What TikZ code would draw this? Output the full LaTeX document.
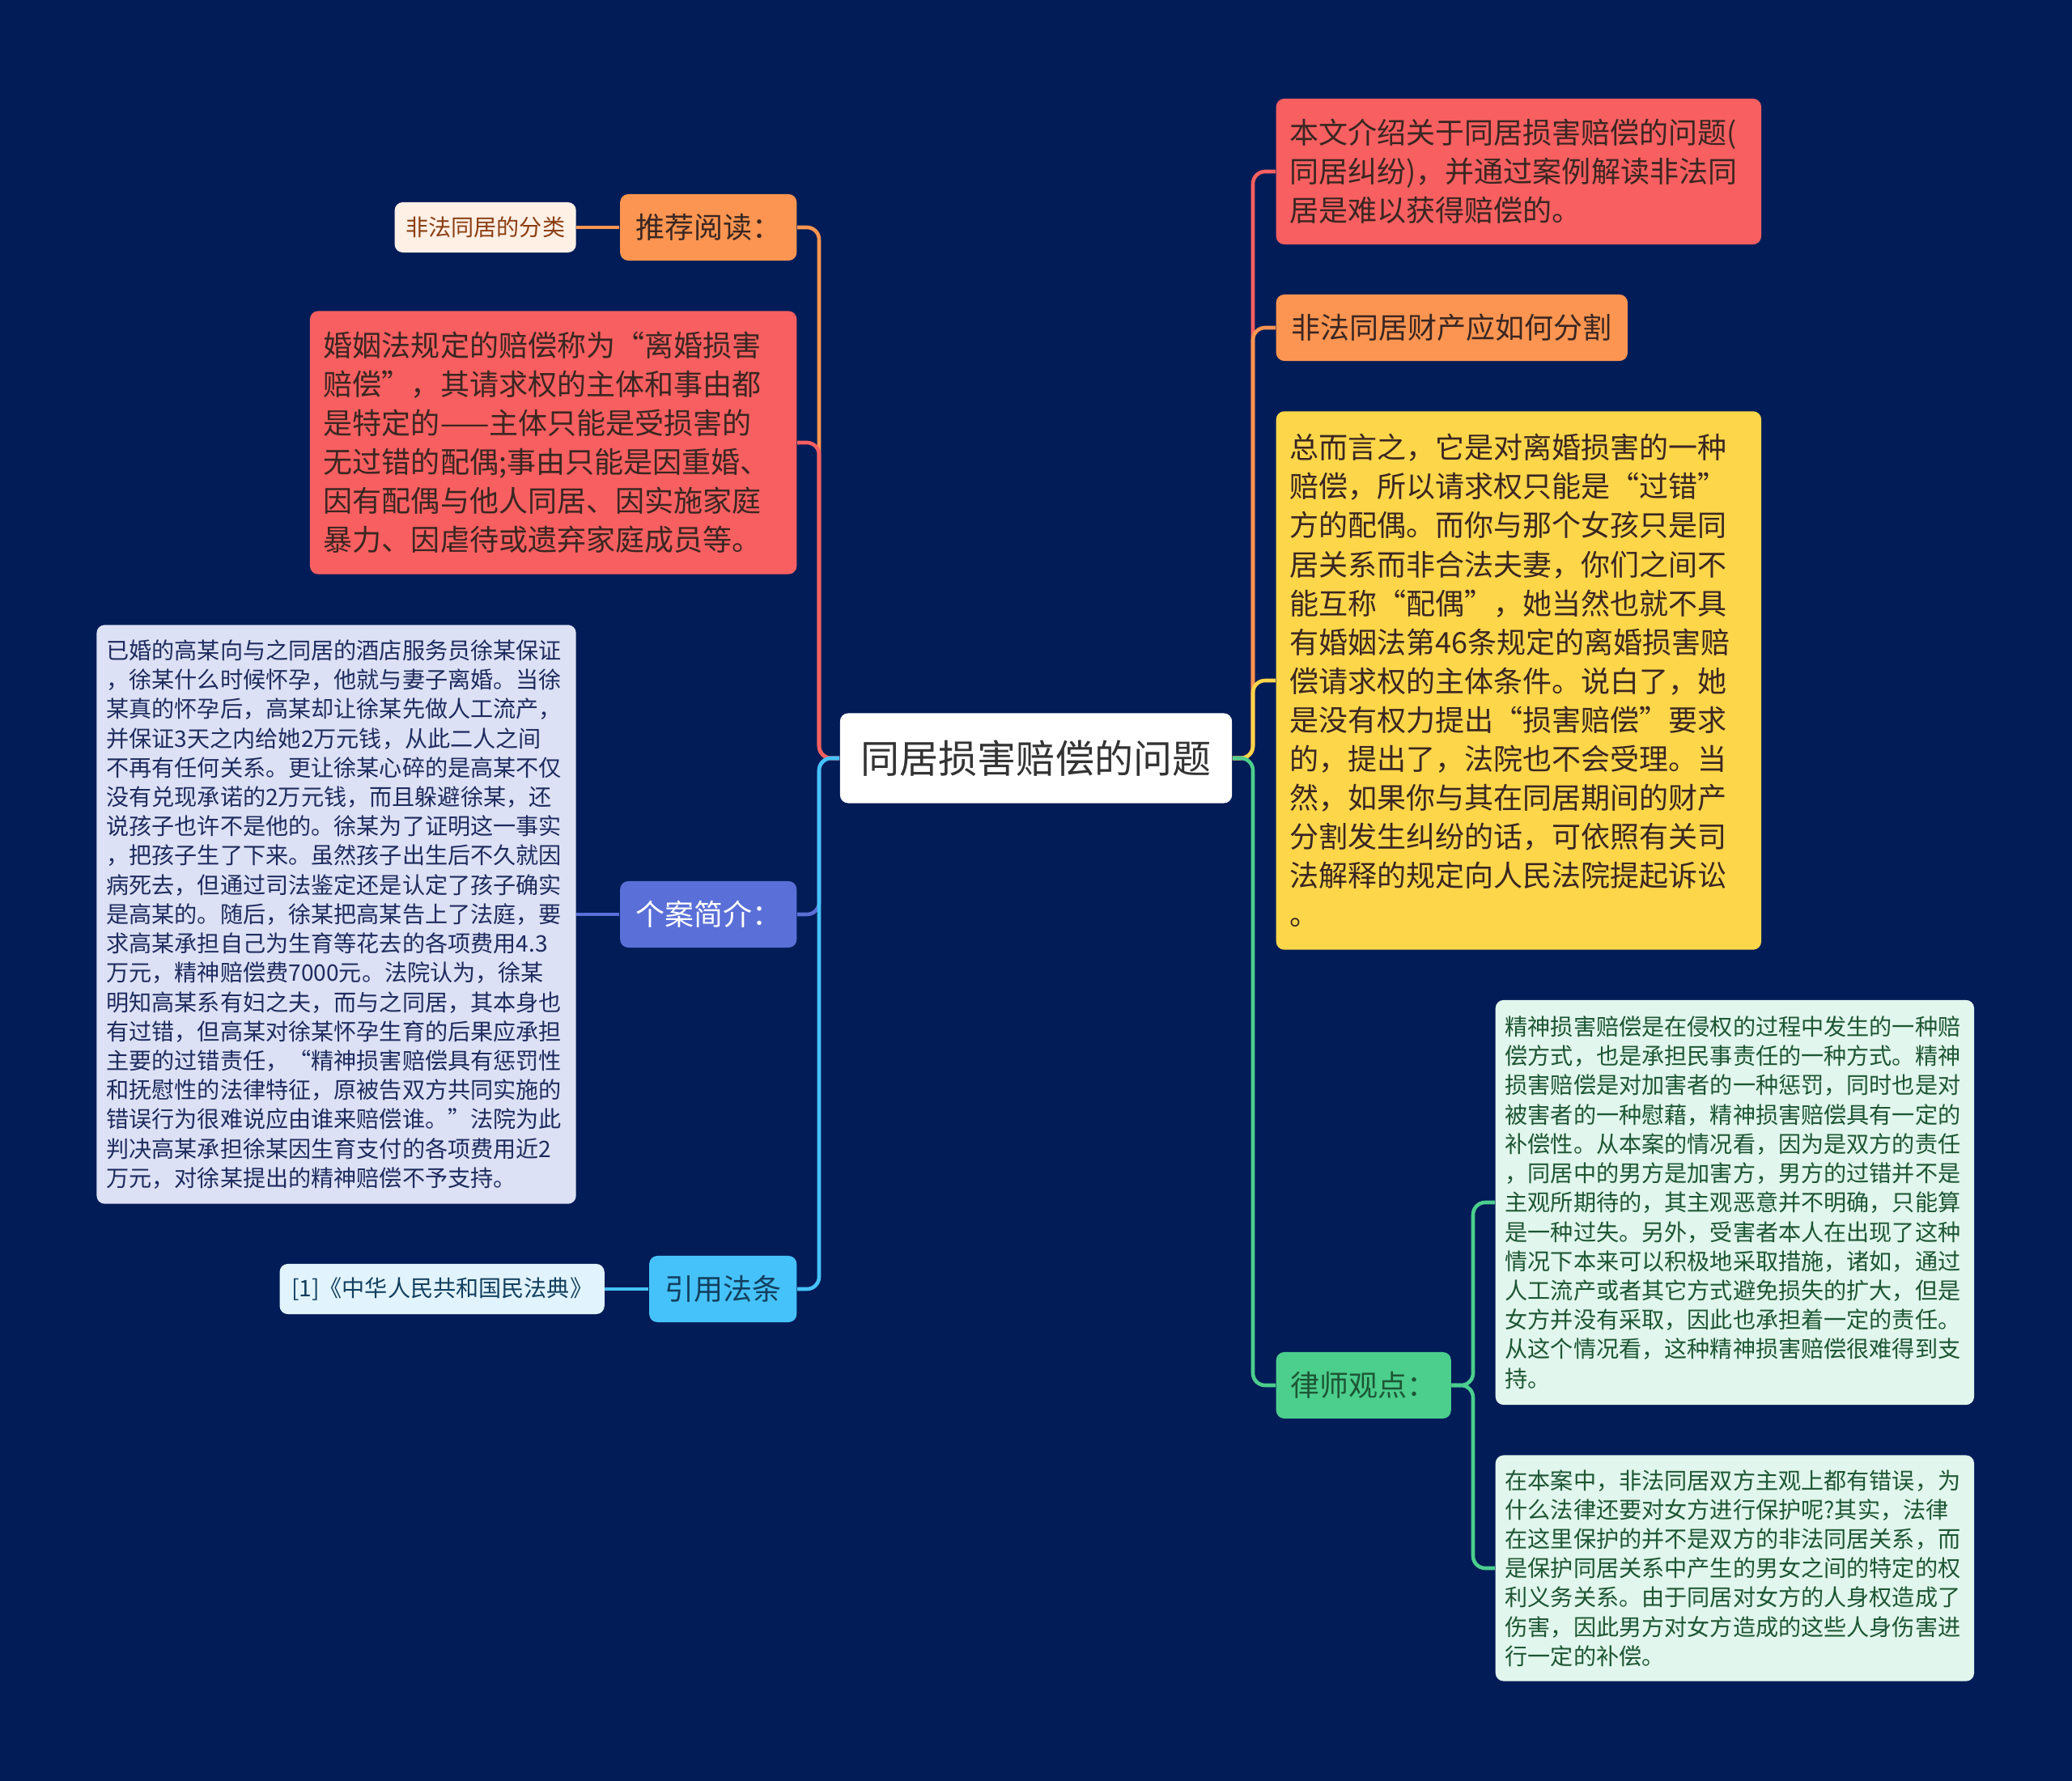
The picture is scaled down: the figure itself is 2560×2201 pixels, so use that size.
\documentclass[tikz,border=0pt]{standalone}
\usepackage{fontspec}
\setmainfont{Noto Sans CJK SC}
\usepackage{tikz}
\usetikzlibrary{positioning}
\definecolor{navyBg}{HTML}{021C57}
\definecolor{coralRed}{HTML}{F85F60}
\definecolor{tangerine}{HTML}{FC9551}
\definecolor{sunYellow}{HTML}{FDD64A}
\definecolor{mintGreen}{HTML}{4CCE8D}
\definecolor{skyBlue}{HTML}{45C2F9}
\definecolor{slateBlue}{HTML}{5A6FD7}
\definecolor{peachPale}{HTML}{FFF0E6}
\definecolor{lavenderPale}{HTML}{DDE1F5}
\definecolor{mintPale}{HTML}{E1F6EC}
\definecolor{icePale}{HTML}{E1F4FD}
\definecolor{inkDark}{HTML}{3A2622}
\definecolor{inkBrown}{HTML}{8A3E12}
\definecolor{inkNavy}{HTML}{1E2B5E}
\definecolor{inkGreen}{HTML}{1D5634}
\definecolor{inkTeal}{HTML}{123F5E}
\definecolor{rootInk}{HTML}{333333}
\newcommand{\szRoot}{\fontsize{13.66pt}{16pt}\selectfont}
\newcommand{\szMid}{\fontsize{10.24pt}{13.66pt}\selectfont}
\newcommand{\szSmall}{\fontsize{8pt}{10.3pt}\selectfont}

\begin{document}
\begin{tikzpicture}[
    x=0.01cm, y=-0.01cm,
    root/.style={rectangle, fill=white, rounded corners=0.1cm, minimum width=4.84cm, minimum height=1.11cm, inner sep=0pt, text=rootInk, font=\szRoot},
    topic/.style={rectangle, rounded corners=0.1cm, minimum height=0.82cm, inner xsep=0.18cm, inner ysep=0pt, font=\szMid},
    note/.style={rectangle, rounded corners=0.1cm, align=left, inner xsep=0.17cm, inner ysep=0.1cm, font=\szMid},
    smallnote/.style={rectangle, rounded corners=0.1cm, align=left, inner xsep=0.12cm, inner ysep=0.1cm, font=\szSmall},
    tag/.style={rectangle, rounded corners=0.1cm, minimum height=0.62cm, inner xsep=0.13cm, inner ysep=0pt, font=\szSmall},
    link/.style={line width=1.3pt, rounded corners=0.15cm}
]
    \useasboundingbox (0,0) rectangle (2560,2201);
    \fill[navyBg] (0,0) rectangle (2560,2201);

    % Nodes
    \node[root] (root) at (1280,937) {同居损害赔偿的问题};
    \coordinate (lhub) at (1012,937);
    \coordinate (rhub) at (1548,937);

    \node[topic, fill=tangerine, text=inkDark, minimum width=2.18cm, anchor=east] (tuijian) at (985,281) {推荐阅读：};
    \node[tag, fill=peachPale, text=inkBrown, minimum width=2.24cm, left=0.53cm of tuijian] (fenlei) {非法同居的分类};
    \node[note, fill=coralRed, text=inkDark, text width=5.67cm, minimum height=3.25cm, anchor=east] (hunyin) at (985,547) {婚姻法规定的赔偿称为“离婚损害\\赔偿”，其请求权的主体和事由都\\是特定的——主体只能是受损害的\\无过错的配偶;事由只能是因重婚、\\因有配偶与他人同居、因实施家庭\\暴力、因虐待或遗弃家庭成员等。};
    \node[topic, fill=slateBlue, text=white, minimum width=2.18cm, anchor=east] (geren) at (985,1130) {个案简介：};
    \node[smallnote, fill=lavenderPale, text=inkNavy, text width=5.68cm, minimum height=7.15cm, left=0.53cm of geren] (anli) {已婚的高某向与之同居的酒店服务员徐某保证\\，徐某什么时候怀孕，他就与妻子离婚。当徐\\某真的怀孕后，高某却让徐某先做人工流产，\\并保证3天之内给她2万元钱，从此二人之间\\不再有任何关系。更让徐某心碎的是高某不仅\\没有兑现承诺的2万元钱，而且躲避徐某，还\\说孩子也许不是他的。徐某为了证明这一事实\\，把孩子生了下来。虽然孩子出生后不久就因\\病死去，但通过司法鉴定还是认定了孩子确实\\是高某的。随后，徐某把高某告上了法庭，要\\求高某承担自己为生育等花去的各项费用4.3\\万元，精神赔偿费7000元。法院认为，徐某\\明知高某系有妇之夫，而与之同居，其本身也\\有过错，但高某对徐某怀孕生育的后果应承担\\主要的过错责任，“精神损害赔偿具有惩罚性\\和抚慰性的法律特征，原被告双方共同实施的\\错误行为很难说应由谁来赔偿谁。”法院为此\\判决高某承担徐某因生育支付的各项费用近2\\万元，对徐某提出的精神赔偿不予支持。};
    \node[topic, fill=skyBlue, text=inkTeal, minimum width=1.82cm, anchor=east] (yinyong) at (985,1593) {引用法条};
    \node[tag, fill=icePale, text=inkTeal, minimum width=4.01cm, left=0.54cm of yinyong] (fadian) {[1]《中华人民共和国民法典》};

    \node[note, fill=coralRed, text=inkDark, text width=5.65cm, minimum height=1.80cm, anchor=west] (intro) at (1576,212) {本文介绍关于同居损害赔偿的问题(\\同居纠纷)，并通过案例解读非法同\\居是难以获得赔偿的。};
    \node[topic, fill=tangerine, text=inkDark, minimum width=4.34cm, anchor=west] (caichan) at (1576,405) {非法同居财产应如何分割};
    \node[note, fill=sunYellow, text=inkDark, text width=5.65cm, minimum height=6.65cm, anchor=west] (zongyan) at (1576,841) {总而言之，它是对离婚损害的一种\\赔偿，所以请求权只能是“过错”\\方的配偶。而你与那个女孩只是同\\居关系而非合法夫妻，你们之间不\\能互称“配偶”，她当然也就不具\\有婚姻法第46条规定的离婚损害赔\\偿请求权的主体条件。说白了，她\\是没有权力提出“损害赔偿”要求\\的，提出了，法院也不会受理。当\\然，如果你与其在同居期间的财产\\分割发生纠纷的话，可依照有关司\\法解释的规定向人民法院提起诉讼\\。};
    \node[topic, fill=mintGreen, text=inkGreen, minimum width=2.15cm, anchor=west] (lvshi) at (1576,1712) {律师观点：};
    \coordinate (shub) at (1820,1712);
    \node[smallnote, fill=mintPale, text=inkGreen, text width=5.67cm, minimum height=5.00cm, anchor=west] (jingshen) at (1847,1486) {精神损害赔偿是在侵权的过程中发生的一种赔\\偿方式，也是承担民事责任的一种方式。精神\\损害赔偿是对加害者的一种惩罚，同时也是对\\被害者的一种慰藉，精神损害赔偿具有一定的\\补偿性。从本案的情况看，因为是双方的责任\\，同居中的男方是加害方，男方的过错并不是\\主观所期待的，其主观恶意并不明确，只能算\\是一种过失。另外，受害者本人在出现了这种\\情况下本来可以积极地采取措施，诸如，通过\\人工流产或者其它方式避免损失的扩大，但是\\女方并没有采取，因此也承担着一定的责任。\\从这个情况看，这种精神损害赔偿很难得到支\\持。};
    \node[smallnote, fill=mintPale, text=inkGreen, text width=5.67cm, minimum height=2.79cm, anchor=west] (baohu) at (1847,1938) {在本案中，非法同居双方主观上都有错误，为\\什么法律还要对女方进行保护呢?其实，法律\\在这里保护的并不是双方的非法同居关系，而\\是保护同居关系中产生的男女之间的特定的权\\利义务关系。由于同居对女方的人身权造成了\\伤害，因此男方对女方造成的这些人身伤害进\\行一定的补偿。};

    % Links
    \draw[link, tangerine] (root.west) -- (lhub) |- (tuijian.east);
    \draw[link, coralRed] (root.west) -- (lhub) |- (hunyin.east);
    \draw[link, slateBlue] (root.west) -- (lhub) |- (geren.east);
    \draw[link, skyBlue] (root.west) -- (lhub) |- (yinyong.east);
    \draw[link, tangerine] (tuijian) -- (fenlei);
    \draw[link, slateBlue] (geren) -- (anli);
    \draw[link, skyBlue] (yinyong) -- (fadian);

    \draw[link, coralRed] (root.east) -- (rhub) |- (intro.west);
    \draw[link, tangerine] (root.east) -- (rhub) |- (caichan.west);
    \draw[link, sunYellow] (root.east) -- (rhub) |- (zongyan.west);
    \draw[link, mintGreen] (root.east) -- (rhub) |- (lvshi.west);
    \draw[link, mintGreen] (lvshi.east) -- (shub) |- (jingshen.west);
    \draw[link, mintGreen] (lvshi.east) -- (shub) |- (baohu.west);
\end{tikzpicture}
\end{document}
